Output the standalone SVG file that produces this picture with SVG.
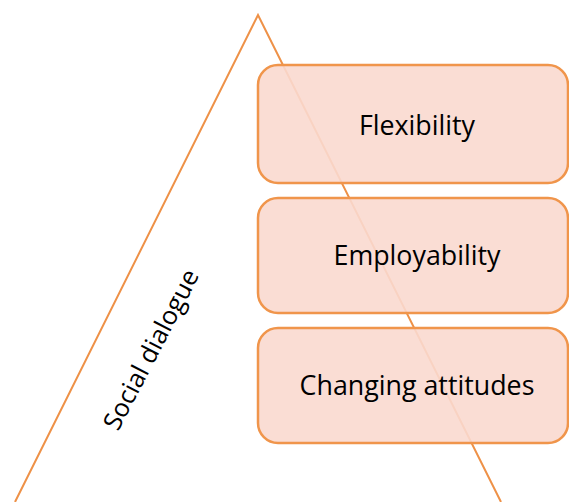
<svg xmlns="http://www.w3.org/2000/svg" width="569" height="502" viewBox="0 0 569 502">
  <style>
    .edge { fill: none; stroke: #ee9147; stroke-width: 2; }
    .box { fill: #f9d9cf; fill-opacity: 0.9; stroke: #f0954b; stroke-width: 2.5; }
    .label { font-family: "Open Sans", "Liberation Sans", sans-serif; font-size: 26.8px; fill: #000; text-anchor: middle; dominant-baseline: central; }
    .side { font-size: 25.5px; }
  </style>
  <rect width="569" height="502" fill="#fff"/>
  <g id="connectors">
    <polyline class="edge" points="15,502 258,15 501,502"/>
  </g>
  <g id="social-dialogue">
    <text class="label side" transform="translate(150,349) rotate(-62.5)">Social dialogue</text>
  </g>
  <g id="flexibility">
    <rect class="box" x="258" y="65" width="310" height="118" rx="20"/>
    <text class="label" x="417" y="124">Flexibility</text>
  </g>
  <g id="employability">
    <rect class="box" x="258" y="198" width="310" height="115" rx="20"/>
    <text class="label" x="417" y="254">Employability</text>
  </g>
  <g id="changing-attitudes">
    <rect class="box" x="258" y="328" width="310" height="115" rx="20"/>
    <text class="label" x="417" y="384">Changing attitudes</text>
  </g>
</svg>
